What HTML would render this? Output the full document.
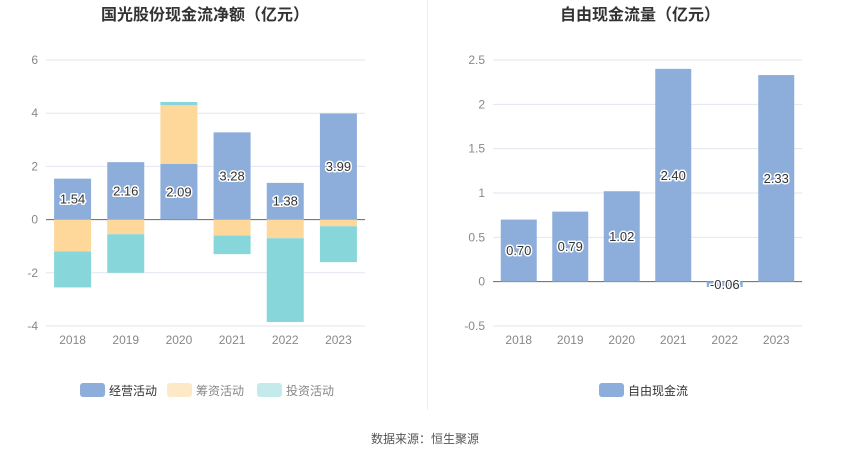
<!DOCTYPE html>
<html><head><meta charset="utf-8">
<style>
html,body{margin:0;padding:0;background:#fff;}
body{width:850px;height:459px;overflow:hidden;font-family:"Liberation Sans","Noto Sans CJK SC",sans-serif;}
svg text{font-family:"Liberation Sans","Noto Sans CJK SC",sans-serif;}
</style></head>
<body>
<svg id="c" width="850" height="459" xmlns="http://www.w3.org/2000/svg">
<text x="205" y="20" text-anchor="middle" font-size="16" font-weight="bold" fill="#333">国光股份现金流净额（亿元）</text>
<text x="640" y="20" text-anchor="middle" font-size="16" font-weight="bold" fill="#333">自由现金流量（亿元）</text>
<line x1="427.5" y1="0" x2="427.5" y2="410" stroke="#eee"/>
<g id="L"></g><g id="R"></g>
<g>
<rect x="80" y="383" width="25" height="14" rx="3" fill="#8dadda"/>
<text x="109" y="395" font-size="12" fill="#333">经营活动</text>
<rect x="167" y="383" width="25" height="14" rx="3" fill="#fde9c6"/>
<text x="196" y="395" font-size="12" fill="#888">筹资活动</text>
<rect x="257" y="383" width="25" height="14" rx="3" fill="#c3ebeb"/>
<text x="286" y="395" font-size="12" fill="#888">投资活动</text>
</g>
<g>
<rect x="599" y="383" width="25" height="14" rx="3" fill="#8dadda"/>
<text x="628" y="395" font-size="12" fill="#333">自由现金流</text>
</g>
<text x="425" y="443" text-anchor="middle" font-size="12" fill="#555">数据来源：恒生聚源</text>
</svg>
<script>
const categories = ["2018","2019","2020","2021","2022","2023"];
const operating = [1.54,2.16,2.09,3.28,1.38,3.99];
const financing = [-1.2,-0.55,2.21,-0.6,-0.7,-0.25];
const investing = [-1.35,-1.45,0.12,-0.7,-3.15,-1.35];
const leftTicks = [6,4,2,0,-2,-4];
const fcf = [0.70,0.79,1.02,2.40,-0.06,2.33];
const rightTicks = [2.5,2,1.5,1,0.5,0,-0.5];
const NS="http://www.w3.org/2000/svg";
function mk(tag,attrs,parent){const e=document.createElementNS(NS,tag);for(const k in attrs)e.setAttribute(k,attrs[k]);parent.appendChild(e);return e;}
function chart(g,x0,x1,yTop,yBot,vMax,vMin,ticks,fmt){
  const y=v=>yTop+(vMax-v)/(vMax-vMin)*(yBot-yTop);
  const step=(x1-x0)/categories.length;
  const cx=i=>x0+step*(i+0.5);
  ticks.forEach(t=>{
    const l=mk('line',{x1:x0,x2:x1,y1:y(t),y2:y(t),stroke:t===0?'#666':'#e3e6ef'},g);
    
    
    const tx=mk('text',{x:x0-8,y:y(t)+4,'text-anchor':'end','font-size':12,fill:'#888'},g);
    tx.textContent=fmt(t);
    
    
  });
  categories.forEach((c,i)=>{
    const tx=mk('text',{x:cx(i),y:yBot+18,'text-anchor':'middle','font-size':12,fill:'#888'},g);
    tx.textContent=c;
    
    
  });
  return {y,cx,step};
}
function label(g,x,yy,txt){
  const t=mk('text',{x:x,y:yy+4.5,'text-anchor':'middle','font-size':13,fill:'#333',stroke:'#fff','stroke-width':3,'paint-order':'stroke','stroke-linejoin':'round'},g);
  t.textContent=txt;
  
  
}
// left
const L=document.getElementById('L');
const a=chart(L,46,365,60,326,6,-4,leftTicks,t=>String(t));
const bw=37;
categories.forEach((c,i)=>{
  let pos=0,neg=0;
  [[operating,'#8dadda','bar-operating'],[financing,'#fdd89a','bar-financing'],[investing,'#87d6d9','bar-investing']].forEach(([arr,col,nm])=>{
    const v=arr[i];let top,bot;
    if(v>=0){top=a.y(pos+v);bot=a.y(pos);pos+=v;}else{top=a.y(neg);bot=a.y(neg+v);neg+=v;}
    const r=mk('rect',{x:a.cx(i)-bw/2,y:top,width:bw,height:bot-top,fill:col},L);
    
    
  });
});
categories.forEach((c,i)=>label(L,a.cx(i),a.y(operating[i]/2),operating[i].toFixed(2)));
// right
const R=document.getElementById('R');
const b=chart(R,493,802,60,326,2.5,-0.5,rightTicks,t=>String(t));
categories.forEach((c,i)=>{
  const v=fcf[i];const top=b.y(Math.max(v,0)),bot=b.y(Math.min(v,0));
  const r=mk('rect',{x:b.cx(i)-18,y:top,width:36,height:bot-top,fill:'#8dadda'},R);
  
  
});
categories.forEach((c,i)=>label(R,b.cx(i),b.y(fcf[i]/2),fcf[i].toFixed(2)));
</script>
</body></html>
